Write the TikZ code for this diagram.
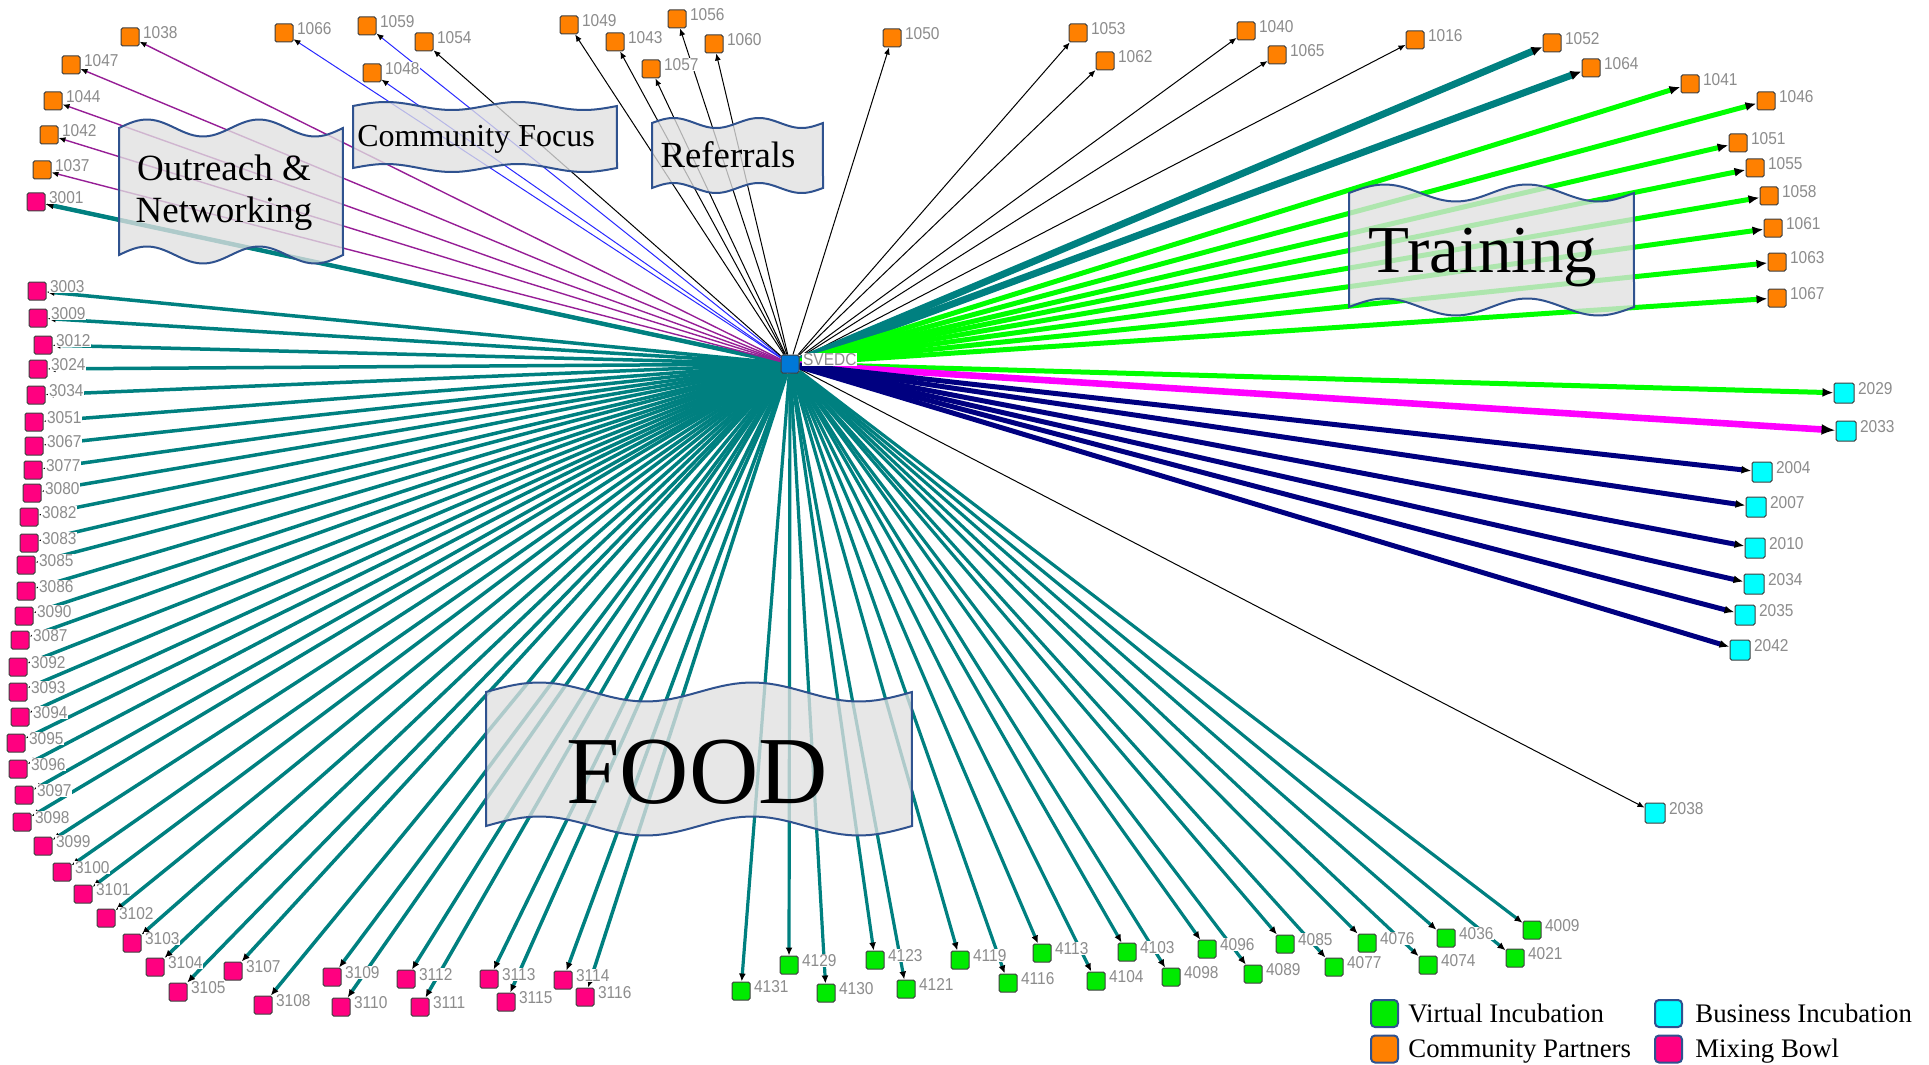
\documentclass[tikz,border=0pt]{standalone}
\usepackage{fontspec}
\setmainfont{Liberation Serif}
\newfontfamily\lblfamily[FakeStretch=0.9]{Liberation Sans}
\usetikzlibrary{arrows.meta}
\pgfdeclarelayer{edgelayer}
\pgfdeclarelayer{toplayer}
\pgfsetlayers{edgelayer,main,toplayer}
\definecolor{corange}{RGB}{255,128,0}
\definecolor{cpink}{RGB}{255,0,128}
\definecolor{cgreen}{RGB}{0,235,0}
\definecolor{ccyan}{RGB}{0,255,255}
\definecolor{cblue}{RGB}{0,120,215}
\definecolor{lblgray}{RGB}{140,140,140}
\definecolor{eteal}{RGB}{0,128,128}
\definecolor{egreen}{RGB}{0,255,0}
\definecolor{enavy}{RGB}{0,0,128}
\definecolor{emag}{RGB}{255,0,255}
\definecolor{epurp}{RGB}{150,30,150}
\definecolor{eblue}{RGB}{40,40,255}
\definecolor{bborder}{RGB}{47,82,143}
\definecolor{bfill}{RGB}{224,224,224}
\newcommand\wavebanner[5]{%
  \filldraw[banner] plot[domain=0:1,samples=61] ({#1+\x*#2},{#3-#5*sin(720*\x)}) -- plot[domain=1:0,samples=61] ({#1+\x*#2},{#4-#5*sin(720*\x)}) -- cycle;}
\begin{document}
\begin{tikzpicture}[x=0.5pt,y=-0.5pt,
  lbl/.style={font=\lblfamily\fontsize{8.6}{10}\selectfont, text=lblgray, fill=white, inner sep=0.4pt, label distance=1.2pt, yshift=2.2pt},
  sq/.style={draw=black!75, line width=0.5pt, rounded corners=0.8pt, minimum size=9pt, inner sep=0pt, label={[lbl]east:#1}},
  sqc/.style={sq=#1, minimum size=10pt, fill=ccyan},
  edgethin/.style={draw=black, line width=0.5pt, -{Latex[color=black,length=3.5pt,width=3pt]}},
  edgepurp/.style={draw=epurp, line width=0.7pt, -{Latex[color=black,length=3.5pt,width=3pt]}},
  edgeblue/.style={draw=eblue, line width=0.5pt, -{Latex[color=black,length=3.5pt,width=3pt]}},
  edgetealthick/.style={draw=eteal, line width=3.5pt, -{Latex[color=black,length=5.5pt,width=5pt]}},
  edgegreen/.style={draw=egreen, line width=2.5pt, -{Latex[color=black,length=5.5pt,width=4.5pt]}},
  edgemag/.style={draw=emag, line width=3.3pt, -{Latex[color=black,length=7pt,width=5.5pt]}},
  edgenavy/.style={draw=enavy, line width=2.5pt, -{Latex[color=black,length=5pt,width=4pt]}},
  edgefoodl/.style={draw=eteal, line width=1.75pt, -{Latex[color=black,length=4pt,width=3.5pt]}},
  edgefoodr/.style={draw=eteal, line width=1.6pt, -{Latex[color=black,length=4pt,width=3.5pt]}},
  banner/.style={fill=bfill, fill opacity=0.78, draw=bborder, line width=1pt},
  bantext/.style={text=black, inner sep=0pt},
  legsq/.style={draw=bborder, line width=1pt, rounded corners=2pt, minimum size=13.5pt, inner sep=0pt},
  legtxt/.style={font=\fontsize{13.4}{16}\selectfont, text=black, inner sep=0pt, anchor=base west}
]
\useasboundingbox (0,0) rectangle (1929,1065);

% centre
\node[sq=SVEDC, fill=cblue] (svedc) at (790,364) {};

% community partners
\foreach \n/\px/\py in {1038/130/37,1047/71/65,1044/53/101,1042/49/135,1037/42/170,
  1066/284/33,1059/367/26,1054/424/42,1048/372/73,1049/569/25,1043/615/42,1056/677/19,
  1060/714/44,1057/651/69,1050/892/38,1053/1078/33,1062/1105/61,1040/1246/31,1065/1277/55,
  1016/1415/40,1052/1552/43,1064/1591/68,1041/1690/84,1046/1766/101,1051/1738/143,
  1055/1755/168,1058/1769/196,1061/1773/228,1063/1777/262,1067/1777/298}
  \node[sq=\n, fill=corange] (n\n) at (\px,\py) {};

% business incubation
\foreach \n/\px/\py in {2029/1844/393,2033/1846/431,2004/1762/472,2007/1756/507,
  2010/1755/548,2034/1754/584,2035/1745/615,2042/1740/650,2038/1655/813}
  \node[sqc=\n] (n\n) at (\px,\py) {};

% mixing bowl
\foreach \n/\px/\py in {3001/36/202,3003/37/291,3009/38/318,3012/43/345,3024/38/369,
  3034/36/395,3051/34/422,3067/34/446,3077/33/470,3080/32/493,3082/29/517,3083/29/543,
  3085/26/565,3086/26/591,3090/24/616,3087/20/640,3092/18/667,3093/18/692,3094/20/717,
  3095/16/743,3096/18/769,3097/24/795,3098/22/822,3099/43/846,3100/62/872,3101/83/894,
  3102/106/918,3103/132/943,3104/155/967,3105/178/992,3107/233/971,3108/263/1005,
  3109/332/977,3110/341/1007,3112/406/979,3111/420/1007,3113/489/979,3115/506/1002,
  3114/563/980,3116/585/997}
  \node[sq=\n, fill=cpink] (n\n) at (\px,\py) {};

% virtual incubation
\foreach \n/\px/\py in {4131/741/991,4129/789/965,4130/826/993,4123/875/960,4121/906/989,
  4119/960/960,4116/1008/983,4113/1042/953,4104/1096/981,4103/1127/952,4098/1171/977,
  4096/1207/949,4089/1253/974,4085/1285/944,4077/1334/967,4076/1367/943,4074/1428/965,
  4036/1446/938,4021/1515/958,4009/1532/930}
  \node[sq=\n, fill=cgreen] (n\n) at (\px,\py) {};

\begin{pgfonlayer}{edgelayer}
\foreach \n in {3001,3003,3009,3012,3024,3034,3051,3067,3077,3080,3082,3083,3085,3086,
  3090,3087,3092,3093,3094,3095,3096,3097,3098,3099,3100,3101,3102,3103,3104,3105,3107,
  3108,3109,3110,3112,3111,3113,3115,3114,3116}
  \draw[edgefoodl] (svedc) -- (n\n);
\draw[edgefoodl, line width=2.2pt] (svedc) -- (n3001);
\foreach \n in {4131,4129,4130,4123,4121,4119,4116,4113,4104,4103,4098,4096,4089,4085,
  4077,4076,4074,4036,4021,4009}
  \draw[edgefoodr] (svedc) -- (n\n);
\foreach \n in {1038,1047,1044,1042,1037} \draw[edgepurp] (svedc) -- (n\n);
\foreach \n in {1066,1059,1048} \draw[edgeblue] (svedc) -- (n\n);
\foreach \n in {1054,1049,1043,1057,1056,1060,1050,1053,1062,1040,1065,1016,2038}
  \draw[edgethin] (svedc) -- (n\n);
\foreach \n in {1052,1064} \draw[edgetealthick] (svedc) -- (n\n);
\foreach \n in {1041,1046,1051,1055,1058,1061,1063,1067,2029} \draw[edgegreen] (svedc) -- (n\n);
\draw[edgemag] (svedc) -- (n2033);
\foreach \n in {2004,2007,2010,2034,2035,2042} \draw[edgenavy] (svedc) -- (n\n);
\end{pgfonlayer}

\begin{pgfonlayer}{toplayer}
\wavebanner{119}{224}{128}{255}{8.5}
\wavebanner{353}{264}{106}{168}{4}
\wavebanner{652}{171}{123}{188}{5}
\wavebanner{1349}{285}{193}{307}{8.5}
\wavebanner{486}{426}{692}{826}{9.5}
\node[bantext, font=\fontsize{18.5}{21}\selectfont, align=center] (outreach) at (224,192.5) {Outreach \&\\Networking};
\node[bantext, font=\fontsize{16}{19}\selectfont, anchor=base] (commfocus) at (476,147) {Community Focus};
\node[bantext, font=\fontsize{18.4}{22}\selectfont, anchor=base] (referrals) at (728,168) {Referrals};
\node[bantext, font=\fontsize{33.5}{40}\selectfont, anchor=base] (training) at (1483,272) {Training};
\node[bantext, font=\fontsize{48}{56}\selectfont] (food) at (697,772) {FOOD};

% legend
\node[legsq, fill=cgreen] (lvi) at (1384.5,1013.5) {};
\node[legsq, fill=corange] (lcp) at (1384.5,1049) {};
\node[legsq, fill=ccyan] (lbi) at (1668.5,1013.5) {};
\node[legsq, fill=cpink] (lmb) at (1668.5,1049) {};
\node[legtxt] (tvi) at (1408,1022) {Virtual Incubation};
\node[legtxt] (tcp) at (1408,1057) {Community Partners};
\node[legtxt] (tbi) at (1695,1022) {Business Incubation};
\node[legtxt] (tmb) at (1695,1057) {Mixing Bowl};
\end{pgfonlayer}
\end{tikzpicture}
\end{document}
